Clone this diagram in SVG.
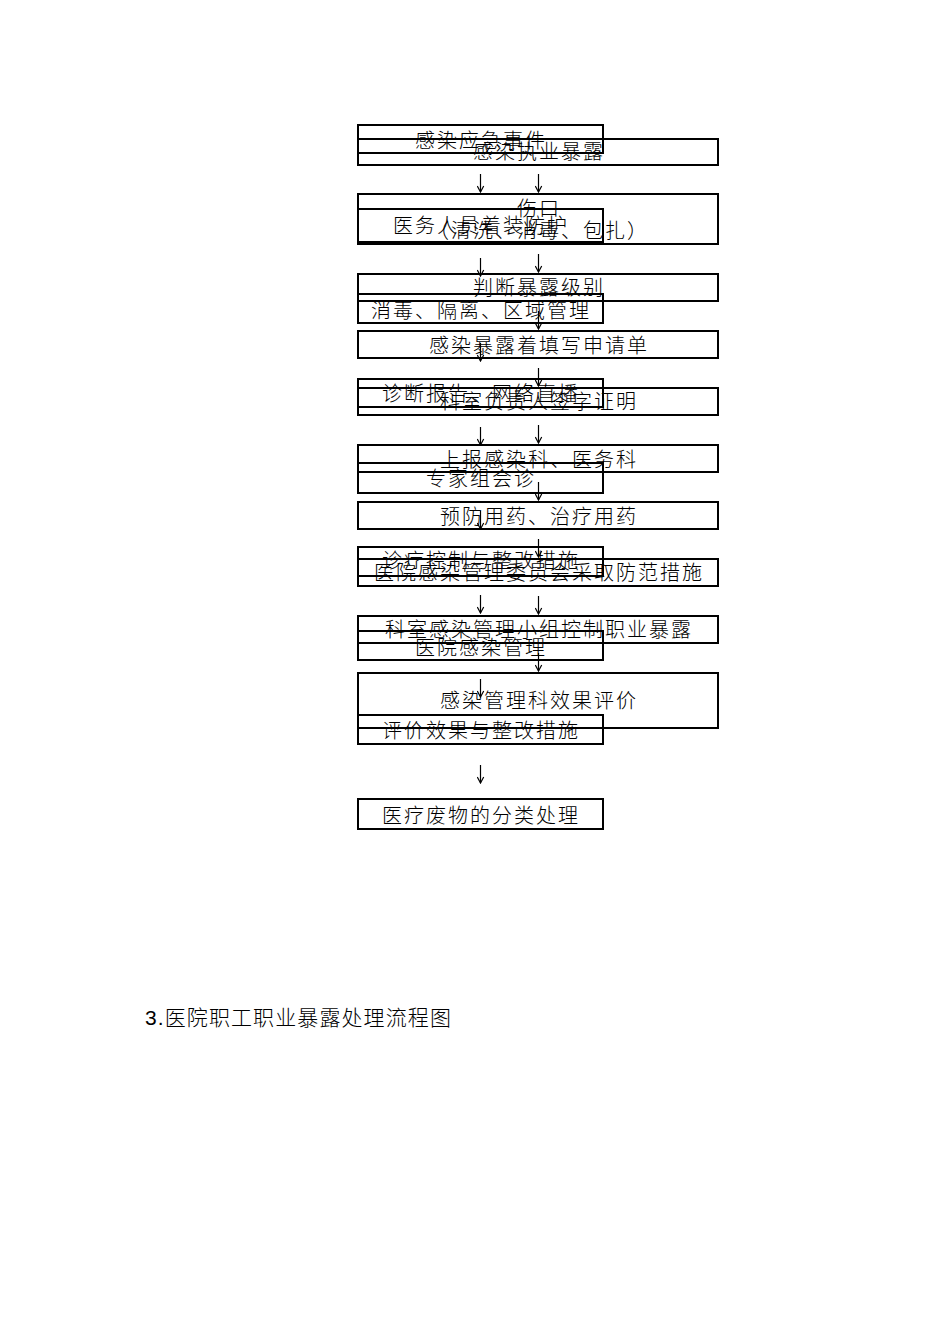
<svg xmlns="http://www.w3.org/2000/svg" width="950" height="1344" viewBox="0 0 950 1344">
<style>
.bx{fill:none;stroke:#000;stroke-width:2}
.t{font-family:"Noto Sans CJK SC","Liberation Sans",sans-serif;font-size:20px;letter-spacing:2px;fill:#000;text-anchor:middle;font-weight:300}
.ttl{font-family:"Liberation Sans","Noto Sans CJK SC",sans-serif;font-size:21px;letter-spacing:1.1px;fill:#000;font-weight:300}
.c{stroke:#000;stroke-width:1.2;fill:none}
</style>
<defs>
<marker id="ah" markerUnits="userSpaceOnUse" markerWidth="8" markerHeight="8" viewBox="0 0 8 8" refX="7.5" refY="4" orient="auto">
<path d="M1.5,0.8 L7.5,4 L1.5,7.2" fill="none" stroke="#000" stroke-width="1.2"/>
</marker>
</defs>
<rect width="950" height="1344" fill="#fff"/>
<g id="connectors">
<line class="c" x1="480.5" y1="174" x2="480.5" y2="192" marker-end="url(#ah)"/>
<line class="c" x1="480.5" y1="258" x2="480.5" y2="276" marker-end="url(#ah)"/>
<line class="c" x1="480.5" y1="343" x2="480.5" y2="361" marker-end="url(#ah)"/>
<line class="c" x1="480.5" y1="427" x2="480.5" y2="445" marker-end="url(#ah)"/>
<line class="c" x1="480.5" y1="511" x2="480.5" y2="529" marker-end="url(#ah)"/>
<line class="c" x1="480.5" y1="595" x2="480.5" y2="613" marker-end="url(#ah)"/>
<line class="c" x1="480.5" y1="679" x2="480.5" y2="697" marker-end="url(#ah)"/>
<line class="c" x1="480.5" y1="765" x2="480.5" y2="783" marker-end="url(#ah)"/>
<line class="c" x1="538.5" y1="174" x2="538.5" y2="192" marker-end="url(#ah)"/>
<line class="c" x1="538.5" y1="254" x2="538.5" y2="272" marker-end="url(#ah)"/>
<line class="c" x1="538.5" y1="311" x2="538.5" y2="329" marker-end="url(#ah)"/>
<line class="c" x1="538.5" y1="368" x2="538.5" y2="386" marker-end="url(#ah)"/>
<line class="c" x1="538.5" y1="425" x2="538.5" y2="443" marker-end="url(#ah)"/>
<line class="c" x1="538.5" y1="482" x2="538.5" y2="500" marker-end="url(#ah)"/>
<line class="c" x1="538.5" y1="539" x2="538.5" y2="557" marker-end="url(#ah)"/>
<line class="c" x1="538.5" y1="596" x2="538.5" y2="614" marker-end="url(#ah)"/>
<line class="c" x1="538.5" y1="653" x2="538.5" y2="671" marker-end="url(#ah)"/>
</g>
<g id="L1"><rect class="bx" x="358" y="125" width="245" height="28"/><text class="t" x="481" y="148">感染应急事件</text></g>
<g id="L2"><rect class="bx" x="358" y="209" width="245" height="33"/><text class="t" x="481" y="233">医务人员着装防护</text></g>
<g id="L3"><rect class="bx" x="358" y="294" width="245" height="29"/><text class="t" x="481" y="318">消毒、隔离、区域管理</text></g>
<g id="L4"><rect class="bx" x="358" y="379" width="245" height="28"/><text class="t" x="481" y="401">诊断报告、网络直播</text></g>
<g id="L5"><rect class="bx" x="358" y="463" width="245" height="30"/><text class="t" x="481" y="486">专家组会诊</text></g>
<g id="L6"><rect class="bx" x="358" y="547" width="245" height="29"/><text class="t" x="481" y="568">诊疗控制与整改措施</text></g>
<g id="L7"><rect class="bx" x="358" y="631" width="245" height="29"/><text class="t" x="481" y="655">医院感染管理</text></g>
<g id="L8"><rect class="bx" x="358" y="715" width="245" height="29"/><text class="t" x="481" y="738">评价效果与整改措施</text></g>
<g id="L9"><rect class="bx" x="358" y="799" width="245" height="30"/><text class="t" x="481" y="823">医疗废物的分类处理</text></g>
<g id="R1"><rect class="bx" x="358" y="139" width="360" height="26"/><text class="t" x="539" y="159">感染执业暴露</text></g>
<g id="R2"><rect class="bx" x="358" y="194" width="360" height="50"/><text class="t" x="539" y="216">伤口</text><text class="t" x="539" y="238">（清洗、消毒、包扎）</text></g>
<g id="R3"><rect class="bx" x="358" y="274" width="360" height="27"/><text class="t" x="539" y="295">判断暴露级别</text></g>
<g id="R4"><rect class="bx" x="358" y="331" width="360" height="27"/><text class="t" x="539" y="353">感染暴露着填写申请单</text></g>
<g id="R5"><rect class="bx" x="358" y="388" width="360" height="27"/><text class="t" x="539" y="409">科室负责人签字证明</text></g>
<g id="R6"><rect class="bx" x="358" y="445" width="360" height="27"/><text class="t" x="539" y="467">上报感染科、医务科</text></g>
<g id="R7"><rect class="bx" x="358" y="502" width="360" height="27"/><text class="t" x="539" y="524">预防用药、治疗用药</text></g>
<g id="R8"><rect class="bx" x="358" y="559" width="360" height="27"/><text class="t" x="539" y="580">医院感染管理委员会采取防范措施</text></g>
<g id="R9"><rect class="bx" x="358" y="616" width="360" height="27"/><text class="t" x="539" y="637">科室感染管理小组控制职业暴露</text></g>
<g id="R10"><rect class="bx" x="358" y="673" width="360" height="55"/><text class="t" x="539" y="708">感染管理科效果评价</text></g>
<text class="ttl" x="145" y="1025">3.医院职工职业暴露处理流程图</text>
</svg>
